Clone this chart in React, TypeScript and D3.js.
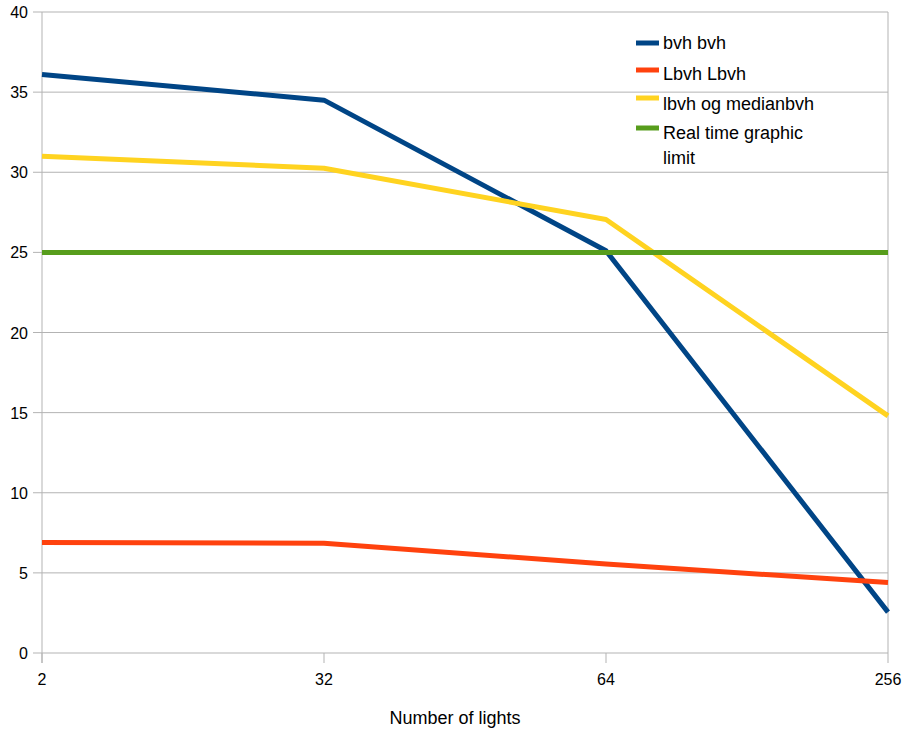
import React from "react";
import * as d3 from "d3";

const categories = ["2", "32", "64", "256"];
const bvh = [36.1, 34.5, 25.1, 2.55];
const lbvh = [6.9, 6.85, 5.55, 4.4];
const lbvhMedian = [31.0, 30.25, 27.05, 14.8];
const realTime = [25, 25, 25, 25];
const yTicks = [0, 5, 10, 15, 20, 25, 30, 35, 40];

const seriesList = [
  { name: ["bvh bvh"], values: bvh, color: "#004586" },
  { name: ["Lbvh Lbvh"], values: lbvh, color: "#ff420e" },
  { name: ["lbvh og medianbvh"], values: lbvhMedian, color: "#ffd320" },
  { name: ["Real time graphic", "limit"], values: realTime, color: "#579d1c" },
];

export default function App() {
  const W = 906, H = 729;
  const left = 42, right = 888, top = 12, bottom = 653;
  const x = d3.scalePoint<string>().domain(categories).range([left, right]).padding(0);
  const y = d3.scaleLinear().domain([0, 40]).range([bottom, top]);
  const line = d3
    .line<number>()
    .x((_, i) => x(categories[i]) as number)
    .y((d) => y(d));
  const grid = "#b3b3b3";
  const font = "'Liberation Sans', Arial, sans-serif";
  const swatchY = [43, 70, 98, 128];
  const textY = [49, 80, 110, 139];
  return (
    <svg
      width={W}
      height={H}
      style={{ position: "absolute", left: 0, top: 0, background: "#fff" }}
      fontFamily={font}
    >
      {yTicks.map((t) => (
        <g key={t}>
          <line x1={33} x2={right} y1={y(t)} y2={y(t)} stroke={grid} strokeWidth={1} />
          <text x={28} y={y(t) + 6} fontSize={16} textAnchor="end" fill="#000">
            {t}
          </text>
        </g>
      ))}
      <line x1={left} x2={left} y1={top} y2={bottom + 10} stroke={grid} strokeWidth={1} />
      <line x1={right} x2={right} y1={top} y2={bottom} stroke={grid} strokeWidth={1} />
      {categories.map((c) => (
        <g key={c}>
          <line x1={x(c)} x2={x(c)} y1={bottom} y2={bottom + 10} stroke={grid} strokeWidth={1} />
          <text x={x(c)} y={685} fontSize={16} textAnchor="middle" fill="#000">
            {c}
          </text>
        </g>
      ))}
      {seriesList.map((s) => (
        <path
          key={s.name[0]}
          d={line(s.values) as string}
          fill="none"
          stroke={s.color}
          strokeWidth={5}
          strokeLinejoin="round"
        />
      ))}
      <text x={455} y={724} fontSize={18} textAnchor="middle" fill="#000">
        Number of lights
      </text>
      {seriesList.map((s, i) => (
        <g key={"lg" + i}>
          <line x1={636} x2={659} y1={swatchY[i]} y2={swatchY[i]} stroke={s.color} strokeWidth={5} />
          {s.name.map((n, j) => (
            <text key={n} x={663} y={textY[i] + j * 25} fontSize={18} fill="#000">
              {n}
            </text>
          ))}
        </g>
      ))}
    </svg>
  );
}
